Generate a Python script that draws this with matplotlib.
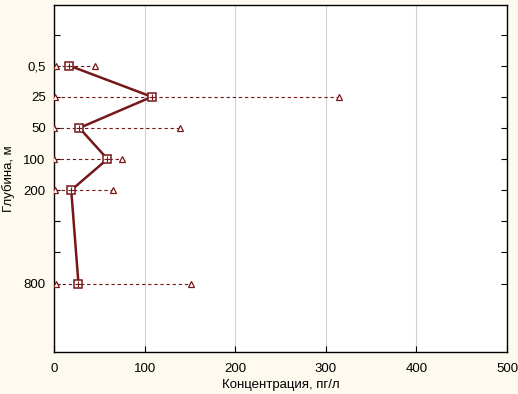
import numpy as np
import matplotlib
matplotlib.use('Agg')
import matplotlib.pyplot as plt

#----------------------------DATA-------------------------------#
depth_labels = ['0,5', '25', '50', '100', '200', '800']
depth_pos = [1, 2, 3, 4, 5, 8]
mean_conc = [17, 108, 28, 59, 19, 27]
min_conc = [2, 1, 0.5, 0.5, 1, 2]
max_conc = [45, 315, 139, 75, 65, 151]
#-----------------------------------------------------------------#

plt.rcParams['font.family'] = ['Liberation Sans', 'DejaVu Sans']
col = '#761818'

fig = plt.figure(figsize=(5.18, 3.94), dpi=100, facecolor='#fffaf0')
ax = fig.add_axes([54 / 518, 1 - 352 / 394, 453 / 518, 347 / 394])
ax.set_facecolor('white')

# min-max range as dashed lines
for y, lo, hi in zip(depth_pos, min_conc, max_conc):
    ax.plot([lo, hi], [y, y], ls=(0, (3, 2.5)), lw=0.8, color=col, zorder=2)
ax.plot(min_conc, depth_pos, ls='none', marker='^', ms=4.5, mfc='white', mec=col, mew=0.9, zorder=3)
ax.plot(max_conc, depth_pos, ls='none', marker='^', ms=4.5, mfc='white', mec=col, mew=0.9, zorder=3)

# mean profile
ax.plot(mean_conc, depth_pos, color=col, lw=1.8, marker='s', ms=6, mfc='white', mec=col, mew=1.1, zorder=4)
ax.plot(mean_conc, depth_pos, ls='none', marker='+', ms=5, mec=col, mew=0.8, zorder=5)

ax.set_xlim(0, 500)
ax.set_ylim(10.2, -0.95)
ax.set_xticks([0, 100, 200, 300, 400, 500])
ax.set_yticks(range(0, 9))
ax.set_yticklabels(['' if i not in depth_pos else depth_labels[depth_pos.index(i)] for i in range(0, 9)])
ax.grid(axis='x', color='#d0d0d0', lw=0.8)
ax.set_axisbelow(True)
ax.tick_params(direction='in', length=4, width=0.8, labelsize=9.5, top=False, right=True, left=True)
ax.tick_params(axis='x', pad=8)
ax.tick_params(axis='y', pad=6)
for s in ax.spines.values():
    s.set_linewidth(1)
    s.set_color('black')

ax.set_xlabel('Концентрация, пг/л', fontsize=9.5, labelpad=3)
ax.set_ylabel('Глубина, м', fontsize=9.5, labelpad=6)

plt.savefig('out.png', dpi=100, facecolor=fig.get_facecolor())
